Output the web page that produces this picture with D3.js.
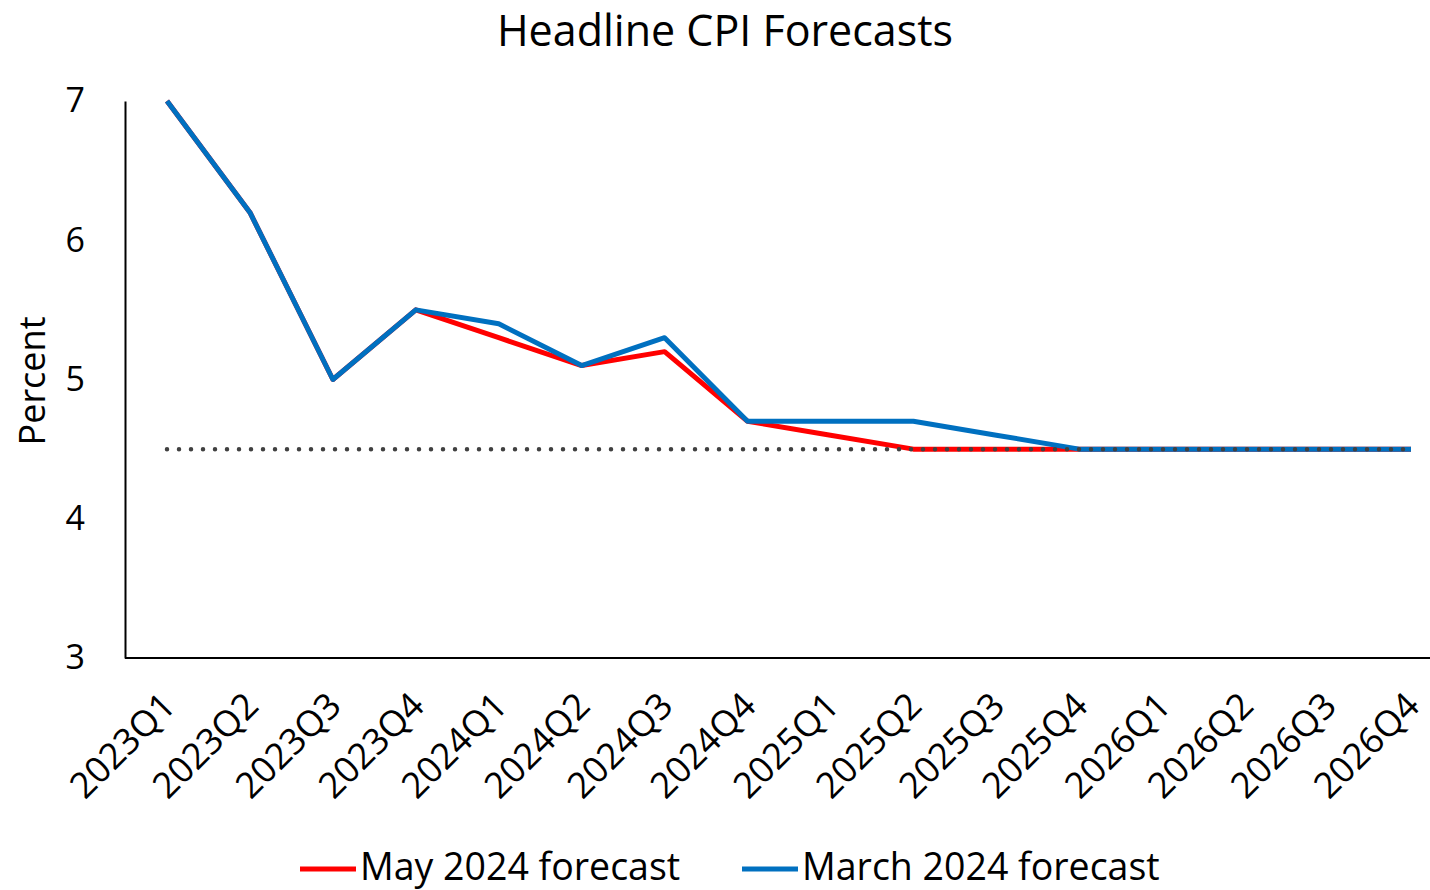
<!DOCTYPE html>
<html>
<head>
<meta charset="utf-8">
<script src="https://cdn.jsdelivr.net/npm/d3@7"></script>
<style>
  body { margin: 0; background: #fff; }
  text { font-family: "Open Sans", sans-serif; fill: #000; }
</style>
</head>
<body>
<div id="chart"></div>
<script>
  // data
  const quarters = ["2023Q1", "2023Q2", "2023Q3", "2023Q4", "2024Q1", "2024Q2", "2024Q3", "2024Q4",
                    "2025Q1", "2025Q2", "2025Q3", "2025Q4", "2026Q1", "2026Q2", "2026Q3", "2026Q4"];
  const may2024 = [7.0, 6.2, 5.0, 5.5, 5.3, 5.1, 5.2, 4.7, 4.6, 4.5, 4.5, 4.5, 4.5, 4.5, 4.5, 4.5];
  const march2024 = [7.0, 6.2, 5.0, 5.5, 5.4, 5.1, 5.3, 4.7, 4.7, 4.7, 4.6, 4.5, 4.5, 4.5, 4.5, 4.5];
  const target = 4.5;
  const yTicks = [3, 4, 5, 6, 7];

  const width = 1430, height = 890;
  const plotLeft = 125, plotTop = 101, plotBottom = 658;

  const svg = d3.select("#chart").append("svg")
    .attr("width", width)
    .attr("height", height);

  let x = d3.scalePoint()
    .domain(quarters)
    .range([167, 1411]);

  let y = d3.scaleLinear()
    .domain([3, 7])
    .range([plotBottom, plotTop]);

  // title
  svg.append("text")
    .attr("x", 725)
    .attr("y", 46)
    .attr("text-anchor", "middle")
    .style("font-size", "43px")
    .text("Headline CPI Forecasts");

  // y axis
  let yAxis = d3.axisLeft(y)
    .tickValues(yTicks)
    .tickFormat(d3.format("d"))
    .tickSize(0)
    .tickPadding(40);
  let yAxisGroup = svg.append("g")
    .attr("transform", `translate(${plotLeft},0)`)
    .call(yAxis);
  yAxisGroup.select(".domain").attr("stroke", "#000").attr("stroke-width", 2);
  yAxisGroup.selectAll("text")
    .attr("font-family", null)
    .style("font-size", "34px");

  svg.append("text")
    .attr("transform", `translate(45,381) rotate(-90)`)
    .attr("text-anchor", "middle")
    .style("font-size", "36px")
    .text("Percent");

  // x axis
  svg.append("line")
    .attr("x1", plotLeft).attr("x2", width)
    .attr("y1", plotBottom).attr("y2", plotBottom)
    .attr("stroke", "#000")
    .attr("stroke-width", 2);

  let xAxis = d3.axisBottom(x).tickSize(0).tickPadding(0);
  let xAxisGroup = svg.append("g")
    .attr("transform", `translate(0,${plotBottom})`)
    .call(xAxis);
  xAxisGroup.select(".domain").remove();
  xAxisGroup.selectAll("text")
    .attr("font-family", null)
    .style("font-size", "36px")
    .attr("text-anchor", "end")
    .attr("dy", null)
    .attr("y", 0)
    .attr("transform", "translate(10,50) rotate(-45)");

  // series
  let line = d3.line()
    .x((d, i) => x(quarters[i]))
    .y((d) => y(d));

  svg.append("path")
    .datum(may2024)
    .attr("d", line)
    .attr("fill", "none")
    .attr("stroke", "#FF0000")
    .attr("stroke-width", 5)
    .attr("stroke-linejoin", "round");

  svg.append("path")
    .datum(march2024)
    .attr("d", line)
    .attr("fill", "none")
    .attr("stroke", "#0070C0")
    .attr("stroke-width", 5)
    .attr("stroke-linejoin", "round");

  // inflation target, dotted
  svg.append("line")
    .attr("x1", x(quarters[0]))
    .attr("x2", x(quarters[quarters.length - 1]))
    .attr("y1", y(target))
    .attr("y2", y(target))
    .attr("stroke", "#404040")
    .attr("stroke-width", 4.5)
    .attr("stroke-linecap", "round")
    .attr("stroke-dasharray", "0 12");

  // legend
  let legendItems = [
    { name: "May 2024 forecast", color: "#FF0000", x: 300 },
    { name: "March 2024 forecast", color: "#0070C0", x: 742 }
  ];
  let legend = svg.selectAll(".legend")
    .data(legendItems)
    .join("g")
    .attr("class", "legend")
    .attr("transform", (d) => `translate(${d.x},869)`);
  legend.append("line")
    .attr("x1", 0).attr("x2", 56)
    .attr("stroke", (d) => d.color)
    .attr("stroke-width", 5);
  legend.append("text")
    .attr("x", 60)
    .attr("y", 11)
    .style("font-size", "37.5px")
    .text((d) => d.name);
</script>
</body>
</html>
